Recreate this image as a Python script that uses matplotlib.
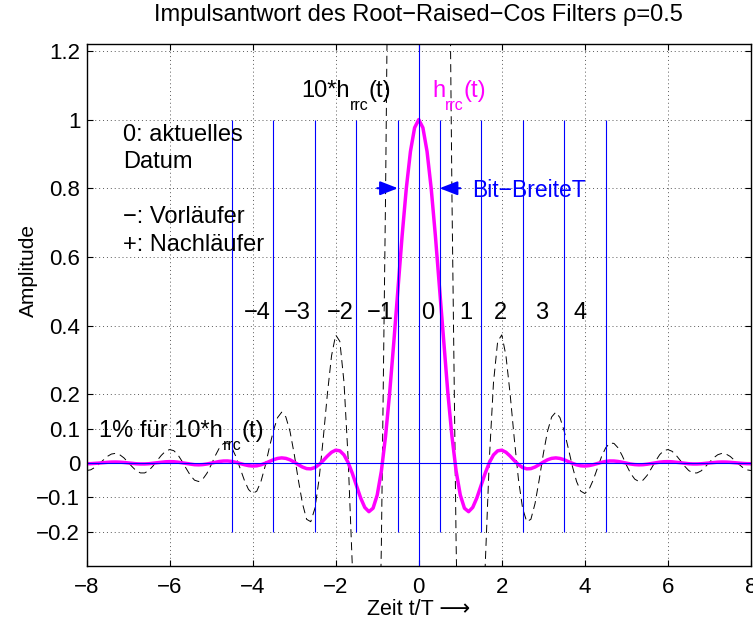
import numpy as np
import matplotlib
matplotlib.use('Agg')
import matplotlib.pyplot as plt

plt.rcParams['font.family'] = ['Liberation Sans', 'DejaVu Sans']
plt.rcParams['font.size'] = 16

# Zeit t/T, Abtastung 0.1
t = np.linspace(-8, 8, 161)
# Impulsantwort h_rrc(t), rho=0.5, normiert auf 1
h_rrc = [
    -0.0022, -0.0020, -0.0013, -0.0003, 0.0008, 0.0019, 0.0026, 0.0028, 0.0024, 0.0015, 0.0002,
    -0.0011, -0.0023, -0.0029, -0.0029, -0.0022, -0.0009, 0.0007, 0.0022, 0.0034, 0.0039,
    0.0036, 0.0024, 0.0005, -0.0016, -0.0036, -0.0050, -0.0054, -0.0047, -0.0030, -0.0006,
    0.0021, 0.0044, 0.0057, 0.0058, 0.0044, 0.0018, -0.0016, -0.0050, -0.0077, -0.0089,
    -0.0082, -0.0054, -0.0010, 0.0043, 0.0094, 0.0132, 0.0148, 0.0134, 0.0092, 0.0027,
    -0.0049, -0.0118, -0.0164, -0.0171, -0.0132, -0.0047, 0.0071, 0.0201, 0.0312, 0.0373,
    0.0354, 0.0235, 0.0012, -0.0299, -0.0660, -0.1015, -0.1294, -0.1418, -0.1317, -0.0933,
    -0.0237, 0.0771, 0.2049, 0.3524, 0.5091, 0.6623, 0.7991, 0.9070, 0.9762,
    1.0000,
    0.9762, 0.9070, 0.7991, 0.6623, 0.5091, 0.3524, 0.2049, 0.0771, -0.0237,
    -0.0933, -0.1317, -0.1418, -0.1294, -0.1015, -0.0660, -0.0299, 0.0012, 0.0235, 0.0354,
    0.0373, 0.0312, 0.0201, 0.0071, -0.0047, -0.0132, -0.0171, -0.0164, -0.0118, -0.0049,
    0.0027, 0.0092, 0.0134, 0.0148, 0.0132, 0.0094, 0.0043, -0.0010, -0.0054, -0.0082,
    -0.0089, -0.0077, -0.0050, -0.0016, 0.0018, 0.0044, 0.0058, 0.0057, 0.0044, 0.0021,
    -0.0006, -0.0030, -0.0047, -0.0054, -0.0050, -0.0036, -0.0016, 0.0005, 0.0024, 0.0036,
    0.0039, 0.0034, 0.0022, 0.0007, -0.0009, -0.0022, -0.0029, -0.0029, -0.0023, -0.0011,
    0.0002, 0.0015, 0.0024, 0.0028, 0.0026, 0.0019, 0.0008, -0.0003, -0.0013, -0.0020,
    -0.0022,
]
h_rrc = np.array(h_rrc)

bit_edges = [-4.5, -3.5, -2.5, -1.5, -0.5, 0.5, 1.5, 2.5, 3.5, 4.5]
num_labels = ['\u22124', '\u22123', '\u22122', '\u22121', '0', '1', '2', '3', '4']
num_x = [-3.89, -2.93, -1.89, -0.92, 0.21, 1.14, 1.96, 2.96, 3.88]
xticks = [-8, -6, -4, -2, 0, 2, 4, 6, 8]
xtick_labels = ['\u22128', '\u22126', '\u22124', '\u22122', '0', '2', '4', '6', '8']
yticks = [-0.2, -0.1, 0, 0.1, 0.2, 0.4, 0.6, 0.8, 1, 1.2]
ytick_labels = ['\u22120.2', '\u22120.1', '0', '0.1', '0.2', '0.4', '0.6', '0.8', '1', '1.2']

fig = plt.figure(figsize=(7.53, 6.23), dpi=100)
ax = fig.add_axes([86.5/753, 57/623, 664.5/753, 522/623])

ax.plot(t, 10*h_rrc, color='k', lw=0.7, linestyle=(0, (8.3, 5.1)))
ax.plot(t, h_rrc, color=(1, 0, 1), lw=2.5)
ax.vlines(bit_edges, -0.2, 1.0, colors='b', lw=0.8)
ax.axvline(0, color='b', lw=0.8)
ax.axhline(0, color='b', lw=0.8)

ax.set_xlim(-8, 8)
ax.set_ylim(-0.3, 1.22)
ax.set_xticks(xticks)
ax.set_xticklabels(xtick_labels)
ax.set_yticks(yticks)
ax.set_yticklabels(ytick_labels)
ax.grid(True, linestyle=(0, (1, 3)), color='0.35', lw=0.7)
ax.set_axisbelow(True)
ax.tick_params(direction='in', top=True, right=True, length=4.5, width=0.8)
ax.tick_params(axis='x', pad=7.7)
ax.tick_params(axis='y', pad=4.5)
for s in ax.spines.values():
    s.set_linewidth(1.0)

ax.set_title('Impulsantwort des Root\u2212Raised\u2212Cos Filters \u03c1=0.5',
             pad=0, y=1.0446, fontsize=17)
ax.set_xlabel('Zeit t/T \u27f6', fontsize=15.5)
ax.xaxis.set_label_coords(0.5, -0.0632)
ax.set_ylabel('Amplitude', fontsize=15)
ax.yaxis.set_label_coords(-0.0736, 0.567)


def sub_text(x, y, main, sub, tail, fs=17, **kw):
    # Text mit tiefgestelltem Index wie in MATLAB
    t1 = ax.text(x, y, main, va='baseline', fontsize=fs, **kw)
    t2 = ax.annotate(sub, xy=(1, 0), xycoords=t1, xytext=(0, -5.5),
                     textcoords='offset points', va='baseline', fontsize=fs*0.68, **kw)
    ax.annotate(tail, xy=(1, 0), xycoords=t2, xytext=(0, 11.6),
                textcoords='offset points', va='baseline', fontsize=fs, **kw)


fs = 17
sub_text(-2.82, 1.065, '10*h', 'rrc', '(t)')
sub_text(0.32, 1.065, 'h', 'rrc', '(t)', color=(1, 0, 1))
sub_text(-7.70, 0.0745, '1% f\u00fcr 10*h', 'rrc', '(t)')
ax.text(-7.12, 0.938, '0: aktuelles', va='baseline', fontsize=fs)
ax.text(-7.12, 0.858, 'Datum', va='baseline', fontsize=fs)
ax.text(-7.12, 0.6975, '\u2212: Vorl\u00e4ufer', va='baseline', fontsize=fs)
ax.text(-7.12, 0.618, '+: Nachl\u00e4ufer', va='baseline', fontsize=fs)
ax.text(1.29, 0.775, 'Bit\u2212BreiteT', va='baseline', color='b', fontsize=16.5)
for lab, xp in zip(num_labels, num_x):
    ax.text(xp, 0.42, lab, ha='center', va='baseline', fontsize=17)

astyle = dict(arrowstyle='-|>,head_length=0.9,head_width=0.35', color='b', lw=1.5,
              mutation_scale=12, shrinkA=0, shrinkB=0)
ax.annotate('', xy=(-0.5, 0.8), xytext=(-1.0, 0.8), arrowprops=astyle)
ax.annotate('', xy=(0.5, 0.8), xytext=(1.0, 0.8), arrowprops=astyle)

fig.savefig('out.png', dpi=100)
